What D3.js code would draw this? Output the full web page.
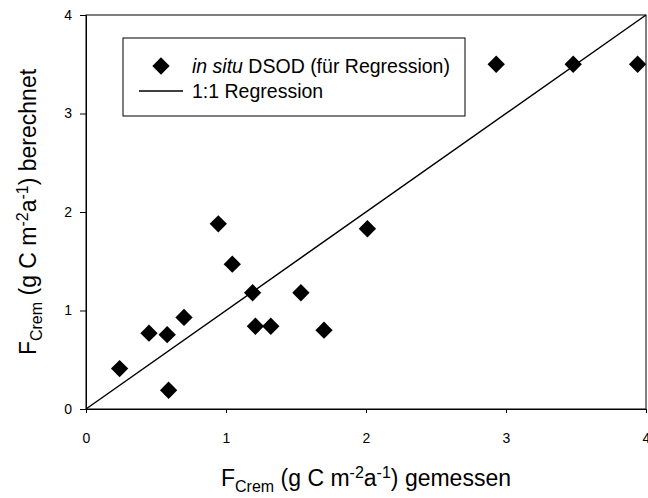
<!DOCTYPE html>
<html><head><meta charset="utf-8">
<script src="https://cdn.jsdelivr.net/npm/d3@7"></script>
<style>
html,body{margin:0;padding:0;background:#fff;}
svg{display:block;font-family:"Liberation Sans",Arial,sans-serif;}
</style></head>
<body><svg id="chart" width="648" height="498"></svg>
<script>
const measured = [0.24,0.45,0.58,0.59,0.70,0.945,1.045,1.19,1.21,1.32,1.535,1.70,2.01,2.93,3.48,3.94];
const calculated = [0.41,0.77,0.755,0.19,0.93,1.88,1.47,1.18,0.84,0.84,1.18,0.80,1.83,3.50,3.50,3.50];
const xTicks = [0,1,2,3,4];
const yTicks = [0,1,2,3,4];
const regression = [[0,0],[4,4]];
const legendLabels = ["DSOD (für Regression)","1:1 Regression"];

const svg = d3.select("#chart");
const L=86, R=646, T=15, B=409;
const x = d3.scaleLinear().domain([0,4]).range([L,R]);
const y = d3.scaleLinear().domain([0,4]).range([B,T]);

// frame
svg.append("rect").attr("x",L).attr("y",T).attr("width",R-L).attr("height",B-T)
  .attr("fill","none").attr("stroke","#000").attr("stroke-width",1);

const xa = svg.append("g").attr("transform",`translate(0,${B})`)
  .call(d3.axisBottom(x).tickValues(xTicks).tickFormat(d3.format("d")).tickSize(4).tickPadding(20));
const ya = svg.append("g").attr("transform",`translate(${L},0)`)
  .call(d3.axisLeft(y).tickValues(yTicks).tickFormat(d3.format("d")).tickSize(6).tickPadding(8));
[xa,ya].forEach(a=>{
  a.select(".domain").attr("stroke","#000");
  a.selectAll("line").attr("stroke","#000");
  a.selectAll("text").attr("font-size",14).attr("fill","#000").attr("font-family","Liberation Sans, Arial, sans-serif");
});

// 1:1 line
svg.append("path").datum(regression)
  .attr("d",d3.line().x(d=>x(d[0])).y(d=>y(d[1])))
  .attr("stroke","#000").attr("stroke-width",1.5).attr("fill","none");

// points
const sym = d3.symbol().type(d3.symbolSquare).size(150);
svg.append("g").selectAll("path").data(measured.map((m,i)=>[m,calculated[i]]))
  .join("path").attr("d",sym)
  .attr("transform",d=>`translate(${x(d[0])},${y(d[1])}) rotate(45)`)
  .attr("fill","#000");

// legend
const lg = svg.append("g");
lg.append("rect").attr("x",123).attr("y",38).attr("width",342).attr("height",78)
  .attr("fill","#fff").attr("stroke","#000").attr("stroke-width",1);
lg.append("path").attr("d",sym).attr("transform","translate(161,66) rotate(45)").attr("fill","#000");
lg.append("line").attr("x1",139).attr("x2",183).attr("y1",91).attr("y2",91).attr("stroke","#000").attr("stroke-width",1.5);
const t1 = lg.append("text").attr("x",192).attr("y",73).attr("font-size",19.5);
t1.append("tspan").attr("font-style","italic").text("in situ");
t1.append("tspan").text(" "+legendLabels[0]);
lg.append("text").attr("x",192).attr("y",98).attr("font-size",19.5).text(legendLabels[1]);

// axis titles
function title(sel, tail){
  sel.append("tspan").text("F");
  sel.append("tspan").attr("font-size",16).attr("dy",6).text("Crem");
  sel.append("tspan").attr("dy",-6).text(" (g C m");
  sel.append("tspan").attr("font-size",16).attr("dy",-8).text("-2");
  sel.append("tspan").attr("dy",8).text("a");
  sel.append("tspan").attr("font-size",16).attr("dy",-8).text("-1");
  sel.append("tspan").attr("dy",8).text(") "+tail);
}
const xt = svg.append("text").attr("x",366).attr("y",486).attr("text-anchor","middle").attr("font-size",23);
title(xt,"gemessen");
const yt = svg.append("text").attr("transform","translate(36,212) rotate(-90)").attr("text-anchor","middle").attr("font-size",23);
title(yt,"berechnet");
</script></body></html>
